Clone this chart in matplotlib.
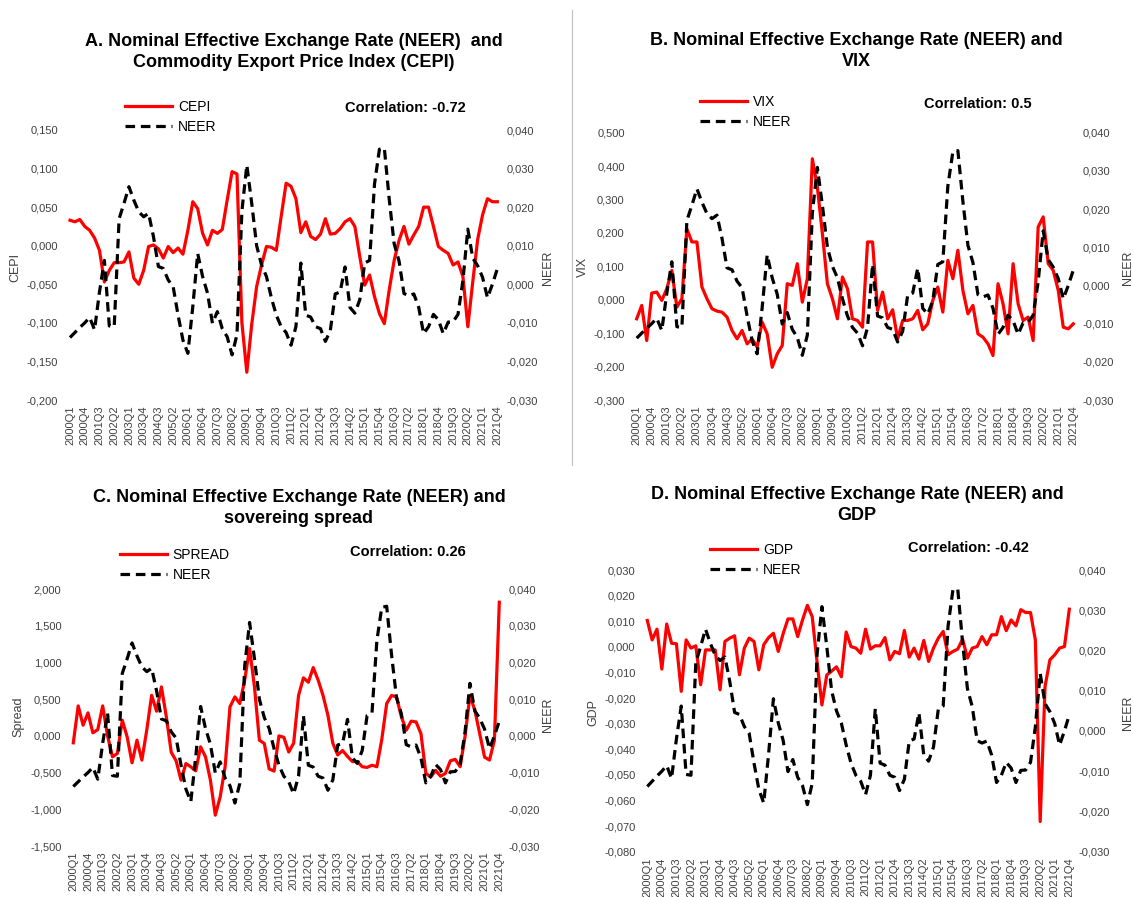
import numpy as np
import matplotlib
matplotlib.use("Agg")
import matplotlib.pyplot as plt
from matplotlib.ticker import FuncFormatter
from matplotlib.lines import Line2D

plt.rcParams['font.family'] = ['Liberation Sans', 'DejaVu Sans']

W, H = 1133, 897

# Quarterly categories 2000Q1 .. 2021Q4
quarters = [f"{y}Q{q}" for y in range(2000, 2022) for q in range(1, 5)]

# Nominal effective exchange rate (right axis in every panel)
neer = [-0.0138, -0.0125, -0.0112, -0.0100, -0.0086, -0.0118, -0.0020, 0.0062,
        -0.0108, -0.0110, 0.0170, 0.0210, 0.0253, 0.0218, 0.0188, 0.0175,
        0.0184, 0.0123, 0.0046, 0.0041, 0.0011, -0.0006, -0.0080, -0.0145,
        -0.0179, -0.0058, 0.0080, 0.0020, -0.0023, -0.0101, -0.0071, -0.0115,
        -0.0136, -0.0183, -0.0130, 0.0190, 0.0309, 0.0210, 0.0100, 0.0050,
        0.0020, -0.0035, -0.0080, -0.0110, -0.0125, -0.0158, -0.0110, 0.0055,
        -0.0080, -0.0085, -0.0110, -0.0115, -0.0148, -0.0120, -0.0025, -0.0020,
        0.0045, -0.0060, -0.0075, -0.0040, 0.0055, 0.0062, 0.0260, 0.0350,
        0.0353, 0.0220, 0.0105, 0.0060, -0.0024, -0.0030, -0.0025, -0.0060,
        -0.0128, -0.0110, -0.0078, -0.0092, -0.0128, -0.0098, -0.0097, -0.0078,
        0.0010, 0.0143, 0.0068, 0.0048, 0.0018, -0.0035, 0.0000, 0.0040]

# Commodity export price index
cepi = [0.033, 0.031, 0.034, 0.025, 0.020, 0.010, -0.006, -0.047,
        -0.032, -0.022, -0.022, -0.021, -0.008, -0.042, -0.050, -0.032,
        -0.001, 0.001, -0.004, -0.016, -0.001, -0.009, -0.003, -0.011,
        0.020, 0.057, 0.048, 0.016, 0.001, 0.020, 0.016, 0.021,
        0.059, 0.096, 0.093, -0.100, -0.164, -0.102, -0.053, -0.025,
        -0.001, -0.002, -0.006, 0.038, 0.081, 0.077, 0.061, 0.017,
        0.031, 0.012, 0.008, 0.015, 0.035, 0.015, 0.016, 0.022,
        0.031, 0.035, 0.025, -0.014, -0.051, -0.038, -0.066, -0.088,
        -0.101, -0.057, -0.019, 0.007, 0.025, 0.002, 0.014, 0.025,
        0.050, 0.050, 0.025, -0.001, -0.006, -0.010, -0.025, -0.021,
        -0.040, -0.105, -0.047, 0.008, 0.040, 0.061, 0.057, 0.057]

# Volatility index
vix = [-0.057, -0.017, -0.122, 0.020, 0.023, -0.002, 0.033, 0.088,
       -0.022, 0.003, 0.212, 0.173, 0.173, 0.038, 0.003, -0.027,
       -0.034, -0.037, -0.052, -0.092, -0.117, -0.092, -0.132, -0.117,
       -0.142, -0.067, -0.102, -0.202, -0.162, -0.137, 0.048, 0.043,
       0.108, -0.007, 0.063, 0.422, 0.337, 0.198, 0.048, 0.003,
       -0.057, 0.068, 0.033, -0.057, -0.062, -0.082, 0.173, 0.173,
       -0.032, 0.023, -0.057, -0.030, -0.117, -0.062, -0.062, -0.057,
       -0.032, -0.090, -0.072, -0.002, 0.038, -0.037, 0.118, 0.063,
       0.148, 0.028, -0.042, -0.017, -0.102, -0.112, -0.132, -0.167,
       0.048, -0.012, -0.102, 0.108, -0.012, -0.062, -0.052, -0.122,
       0.218, 0.248, 0.108, 0.088, 0.028, -0.082, -0.087, -0.072]

# Sovereign spread
spread = [-0.095, 0.408, 0.145, 0.313, 0.041, 0.086, 0.408, 0.000,
          -0.286, -0.240, 0.213, -0.014, -0.367, -0.059, -0.331, 0.077,
          0.553, 0.336, 0.667, 0.259, -0.222, -0.340, -0.603, -0.377,
          -0.422, -0.476, -0.150, -0.286, -0.603, -1.080, -0.830, -0.422,
          0.395, 0.531, 0.440, 0.758, 1.190, 0.667, -0.059, -0.104,
          -0.450, -0.480, 0.000, -0.020, -0.220, -0.100, 0.550, 0.790,
          0.730, 0.930, 0.760, 0.550, 0.280, -0.100, -0.260, -0.200,
          -0.280, -0.350, -0.350, -0.420, -0.430, -0.400, -0.420, -0.050,
          0.440, 0.550, 0.530, 0.260, 0.077, 0.200, 0.190, 0.030,
          -0.510, -0.560, -0.470, -0.550, -0.510, -0.340, -0.320, -0.420,
          -0.010, 0.550, 0.350, 0.030, -0.290, -0.330, -0.060, 1.820]

# Gross domestic product
gdp = [0.0103, 0.0027, 0.0069, -0.0087, 0.0089, 0.0014, 0.0012, -0.0174,
       0.0027, -0.0005, 0.0004, -0.0148, -0.0012, -0.0012, -0.0012, -0.0168,
       0.0021, 0.0034, 0.0043, -0.0109, -0.0005, 0.0034, 0.0021, -0.0090,
       0.0008, 0.0036, 0.0053, -0.0018, 0.0051, 0.0109, 0.0109, 0.0040,
       0.0105, 0.0162, 0.0118, -0.0060, -0.0227, -0.0110, -0.0095, -0.0078,
       -0.0117, 0.0058, 0.0001, -0.0005, -0.0025, 0.0069, -0.0009, 0.0004,
       0.0004, 0.0036, -0.0051, -0.0018, -0.0027, 0.0064, -0.0040, -0.0005,
       -0.0048, 0.0025, -0.0057, -0.0005, 0.0034, 0.0060, -0.0031, -0.0018,
       -0.0009, 0.0030, -0.0044, -0.0005, 0.0001, 0.0040, 0.0008, 0.0047,
       0.0047, 0.0118, 0.0063, 0.0105, 0.0082, 0.0145, 0.0134, 0.0134,
       0.0027, -0.0682, -0.0155, -0.0051, -0.0031, -0.0005, 0.0001, 0.0147]

panels = [
    dict(series=cepi, name='CEPI', ylabel='CEPI', lim=(-0.20, 0.15), step=0.05,
         x0=70.0, x1=497.3, ytop=130.0, ybot=400.0,
         title="A. Nominal Effective Exchange Rate (NEER)  and\nCommodity Export Price Index (CEPI)",
         title_xy=(294, 52), corr="Correlation: -0.72", corr_xy=(405, 108),
         leg_xy=(125, 108), ylab_l=(15, 268), ylab_r=(548, 268)),
    dict(series=vix, name='VIX', ylabel='VIX', lim=(-0.30, 0.50), step=0.10,
         x0=636.7, x1=1073.3, ytop=132.7, ybot=400.0,
         title="B. Nominal Effective Exchange Rate (NEER) and\nVIX",
         title_xy=(856, 51), corr="Correlation: 0.5", corr_xy=(978, 104),
         leg_xy=(700, 103), ylab_l=(583, 267), ylab_r=(1128, 268)),
    dict(series=spread, name='SPREAD', ylabel='Spread', lim=(-1.5, 2.0), step=0.5,
         x0=73.3, x1=499.3, ytop=589.0, ybot=846.0,
         title="C. Nominal Effective Exchange Rate (NEER) and\nsovereing spread",
         title_xy=(299, 508), corr="Correlation: 0.26", corr_xy=(408, 552),
         leg_xy=(120, 556), ylab_l=(18, 717), ylab_r=(548, 715)),
    dict(series=gdp, name='GDP', ylabel='GDP', lim=(-0.08, 0.03), step=0.01,
         x0=647.3, x1=1069.3, ytop=570.0, ybot=851.7,
         title="D. Nominal Effective Exchange Rate (NEER) and\nGDP",
         title_xy=(857, 505), corr="Correlation: -0.42", corr_xy=(968, 548),
         leg_xy=(710, 551), ylab_l=(593, 712), ylab_r=(1128, 713)),
]

TICK_COLOR = '#404040'
comma = FuncFormatter(lambda v, p: f"{0.0 if abs(v) < 1e-9 else v:.3f}".replace('.', ','))

fig = plt.figure(figsize=(W / 100, H / 100), dpi=100)


def fx(px):
    return px / W


def fy(py):
    return 1 - py / H


for cfg in panels:
    step = (cfg['x1'] - cfg['x0']) / 87
    left = cfg['x0'] - 0.5 * step
    right = cfg['x1'] + 0.5 * step
    ax = fig.add_axes([fx(left), fy(cfg['ybot']), (right - left) / W,
                       (cfg['ybot'] - cfg['ytop']) / H])
    ax2 = ax.twinx()
    xs = np.arange(len(quarters))
    l1, = ax.plot(xs, cfg['series'], color='#FF0000', lw=2.3,
                  solid_joinstyle='round', label=cfg['name'])
    l2, = ax2.plot(xs, neer, color='black', lw=2.3, ls=(0, (3, 1.8)),
                   label='NEER')

    ax.set_xlim(-0.5, len(quarters) - 0.5)
    lo, hi = cfg['lim']
    ax.set_ylim(lo, hi)
    ax.set_yticks(np.linspace(lo, hi, int(round((hi - lo) / cfg['step'])) + 1))
    ax2.set_ylim(-0.03, 0.04)
    ax2.set_yticks(np.linspace(-0.03, 0.04, 8))
    ax.yaxis.set_major_formatter(comma)
    ax2.yaxis.set_major_formatter(comma)
    ax.set_xticks(xs[::3])
    ax.set_xticklabels(quarters[::3], rotation=90)

    for a in (ax, ax2):
        for s in a.spines.values():
            s.set_visible(False)
    ax.tick_params(axis='x', length=0, pad=4, labelsize=8, labelcolor=TICK_COLOR)
    ax.tick_params(axis='y', length=0, pad=6.8, labelsize=8, labelcolor=TICK_COLOR)
    ax2.tick_params(axis='y', length=0, pad=5, labelsize=8, labelcolor=TICK_COLOR)

    fig.text(fx(cfg['title_xy'][0]), fy(cfg['title_xy'][1]), cfg['title'],
             ha='center', va='center', fontsize=13, fontweight='bold',
             linespacing=1.3, multialignment='center')
    fig.text(fx(cfg['corr_xy'][0]), fy(cfg['corr_xy'][1]), cfg['corr'],
             ha='center', va='center', fontsize=10.5, fontweight='bold')
    fig.text(fx(cfg['ylab_l'][0]), fy(cfg['ylab_l'][1]), cfg['ylabel'],
             ha='center', va='center', rotation=90, fontsize=9, color=TICK_COLOR)
    fig.text(fx(cfg['ylab_r'][0]), fy(cfg['ylab_r'][1]), 'NEER',
             ha='center', va='center', rotation=90, fontsize=9, color=TICK_COLOR)

    lx, ly = cfg['leg_xy']
    ax2.legend(handles=[l1, l2], loc='upper left',
               bbox_to_anchor=(fx(lx), fy(ly - 8)), bbox_transform=fig.transFigure,
               frameon=False, fontsize=10, handlelength=3.4, handletextpad=0.4,
               labelspacing=0.45, borderpad=0, borderaxespad=0)

# thin separator between the two upper panels
fig.add_artist(Line2D([fx(572), fx(572)], [fy(10), fy(465)], color='#BFBFBF', lw=0.8))

fig.savefig('out.png', dpi=100)
